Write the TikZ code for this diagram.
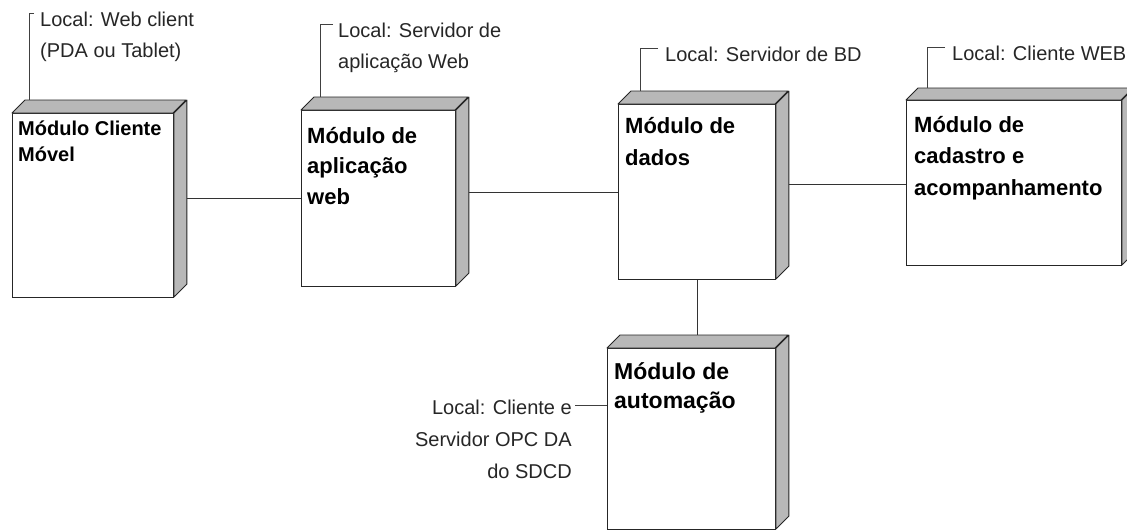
\documentclass[tikz,border=0pt]{standalone}
\usepackage{fontspec}
\setmainfont{Liberation Sans}
\usetikzlibrary{calc}
\tikzset{
  front/.style={draw=black!85, line width=0.9pt, fill=white, inner sep=0pt, anchor=north west},
  face/.style={draw=black!85, line width=0.9pt, fill=black!28, line join=round},
  conn/.style={draw=black!80, line width=0.8pt},
  lead/.style={draw=black!75, line width=0.7pt},
  lbl/.style={inner sep=0pt, anchor=north west, align=left, font=\bfseries\fontsize{22}{30.5}\selectfont},
  note/.style={inner sep=0pt, anchor=north west, align=left, font=\fontsize{20}{31}\selectfont, text=black!85}
}
% \mycube{name}{x1}{y1}{x2}{y2}{depth}
\newcommand{\mycube}[6]{%
  \node[front, minimum width=#4pt-#2pt, minimum height=#5pt-#3pt] (#1) at (#2,#3) {};
  \path[face] (#1.north west) -- ++(#6,-#6) -- ++(#4-#2,0) -- ++(-#6,#6) -- cycle;
  \path[face] (#1.north east) -- ++(#6,-#6) -- ++(0,#5-#3) -- ++(-#6,#6) -- cycle;
}
\begin{document}
\begin{tikzpicture}[x=1pt,y=-1pt]
\useasboundingbox (0,0) rectangle (1127,530);
\clip (0,0) rectangle (1127,530);
% boxes
\mycube{b1}{12}{113}{173}{297}{13}
\mycube{b2}{301}{110}{455}{286}{13}
\mycube{b3}{618}{104}{775}{279}{13}
\mycube{b4}{906}{100}{1121}{265}{12}
\mycube{b5}{607}{348}{775}{529}{13}
% box labels
\node[lbl, font=\bfseries\fontsize{20}{26}\selectfont] (l1) at (18,121) {Módulo Cliente\\Móvel};
\node[lbl] (l2) at (307,127) {Módulo de\\aplicação\\web};
\node[lbl, font=\bfseries\fontsize{22}{32}\selectfont] (l3) at (625,117) {Módulo de\\dados};
\node[lbl, font=\bfseries\fontsize{22}{31.5}\selectfont] (l4) at (914,116) {Módulo de\\cadastro e\\acompanhamento};
\node[lbl, font=\bfseries\fontsize{23}{29}\selectfont] (l5) at (614,362) {Módulo de\\automação};
% connectors
\coordinate (c12) at (0,198);
\coordinate (c23) at (0,192);
\coordinate (c34) at (0,184);
\coordinate (c35) at (697,0);
\draw[conn] ($(b1.east |- c12)+(13,0)$) -- (b2.west |- c12);
\draw[conn] ($(b2.east |- c23)+(13,0)$) -- (b3.west |- c23);
\draw[conn] ($(b3.east |- c34)+(13,0)$) -- (b4.west |- c34);
\draw[conn] (b3.south -| c35) -- ($(b5.north -| c35)+(0,-13)$);
% notes
\node[note] (t1) at (40,12) {Local: Web client\\(PDA ou Tablet)};
\node[note] (t2) at (338,23) {Local: Servidor de\\aplicação Web};
\node[note] (t3) at (665,47) {Local: Servidor de BD};
\node[note] (t4) at (952,46) {Local: Cliente WEB};
\node[note, anchor=north east, align=right, font=\fontsize{20}{32}\selectfont] (t5) at (572,400) {Local: Cliente e\\Servidor OPC DA\\do SDCD};
% leaders
\draw[lead] ([xshift=-6pt,yshift=-1pt]t1.north west) -| ($(b1.north west)+(17,-13)$);
\draw[lead] ([xshift=-5pt,yshift=-1pt]t2.north west) -| ($(b2.north west)+(19,-13)$);
\draw[lead] ([xshift=-7pt,yshift=-1pt]t3.north west) -| ($(b3.north west)+(22,-13)$);
\draw[lead] ([xshift=-7pt,yshift=-1pt]t4.north west) -| ($(b4.north west)+(21,-12)$);
\draw[lead] ([xshift=3pt,yshift=-5pt]t5.north east) coordinate (l5s) -- (l5s -| b5.west);
\end{tikzpicture}
\end{document}
